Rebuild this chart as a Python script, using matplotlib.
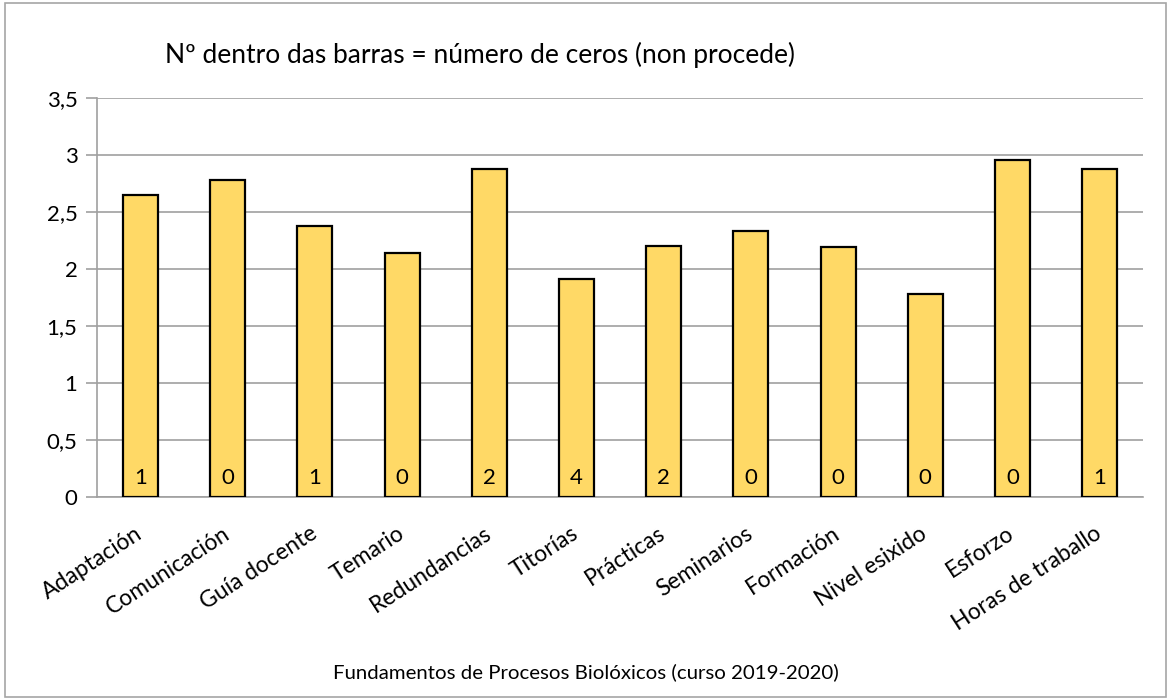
import numpy as np
import matplotlib.pyplot as plt
import matplotlib as mpl
from matplotlib.patches import Rectangle

mpl.rcParams.update({"font.family": ["Lato", "DejaVu Sans"], "text.color": "black"})

cats = ["Adaptación", "Comunicación", "Guía docente", "Temario", "Redundancias", "Titorías",
        "Prácticas", "Seminarios", "Formación", "Nivel esixido", "Esforzo", "Horas de traballo"]
vals = [2.65, 2.78, 2.38, 2.14, 2.88, 1.91, 2.20, 2.33, 2.19, 1.78, 2.96, 2.88]
zeros = [1, 0, 1, 0, 2, 4, 2, 0, 0, 0, 0, 1]
yticks = [0, 0.5, 1, 1.5, 2, 2.5, 3, 3.5]
ytick_lbls = ["0", "0,5", "1", "1,5", "2", "2,5", "3", "3,5"]

fig = plt.figure(figsize=(11.71, 7.0), dpi=100)
fig.patches.append(Rectangle((0.004, 0.004), 0.992, 0.992, transform=fig.transFigure,
                             fill=False, edgecolor="#A6A6A6", lw=1.2))
ax = fig.add_axes([0.0828, 0.29, 0.8935, 0.57])
x = np.arange(len(cats))
ax.bar(x, vals, width=0.4, color="#FFD966", edgecolor="black", lw=1.6, zorder=3)
for xi, z in zip(x, zeros):
    ax.text(xi, 0.17, str(z), ha="center", va="center", fontsize=16, zorder=4)

ax.set_xlim(-0.5, len(cats) - 0.5)
ax.set_ylim(0, 3.5)
ax.set_yticks(yticks)
ax.set_yticklabels(ytick_lbls, fontsize=16)
ax.set_xticks(x)
ax.set_xticklabels(cats, rotation=33, ha="right", va="center", rotation_mode="anchor",
                   fontsize=16.5)
ax.tick_params(axis="x", length=0, pad=25)
ax.tick_params(axis="y", length=8, color="#A0A0A0", width=1.2, pad=6, direction="out")
ax.grid(axis="y", color="#A0A0A0", lw=1.2, zorder=0)
for s in ["top", "right"]:
    ax.spines[s].set_visible(False)
ax.spines["left"].set_color("#A0A0A0")
ax.spines["bottom"].set_color("#A0A0A0")
ax.spines["left"].set_linewidth(1.2)
ax.spines["bottom"].set_linewidth(1.2)

fig.text(0.141, 0.921, "Nº dentro das barras = número de ceros (non procede)", fontsize=19,
         ha="left", va="center")
fig.text(0.5, 0.04, "Fundamentos de Procesos Biolóxicos (curso 2019-2020)", fontsize=14.7,
         ha="center", va="center")

plt.savefig("out.png", dpi=100, facecolor="white")
